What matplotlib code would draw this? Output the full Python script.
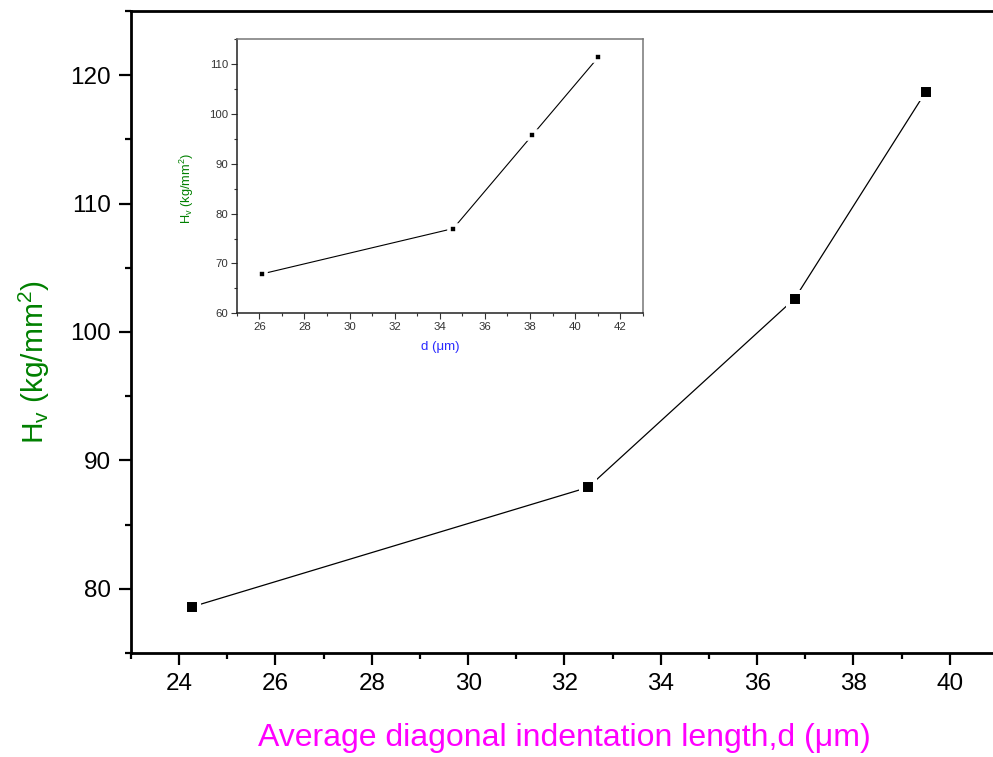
import matplotlib
matplotlib.use("Agg")
import matplotlib.pyplot as plt
from matplotlib.ticker import MultipleLocator

plt.rcParams['font.family'] = ['Liberation Sans', 'DejaVu Sans']
plt.rcParams['mathtext.fontset'] = 'custom'
plt.rcParams['mathtext.rm'] = 'Liberation Sans'
plt.rcParams['mathtext.it'] = 'Liberation Sans:italic'

# main data
d_main = [24.27, 32.49, 36.78, 39.5]
hv_main = [78.6, 87.9, 102.6, 118.7]
# inset data
d_inset = [26.12, 34.6, 38.1, 41.02]
hv_inset = [67.9, 77.0, 95.7, 111.3]

fig = plt.figure(figsize=(9.93, 7.57), dpi=100)

ax = fig.add_axes([0.1319, 0.1374, 0.8731, 0.8481])
ax.plot(d_main, hv_main, color='black', lw=0.9, marker='s', ms=10.1,
        mfc='black', mec='white', mew=2.9, zorder=3)
ax.set_xlim(23, 41)
ax.set_ylim(75, 125)
ax.xaxis.set_major_locator(MultipleLocator(2))
ax.xaxis.set_minor_locator(MultipleLocator(1))
ax.yaxis.set_major_locator(MultipleLocator(10))
ax.yaxis.set_minor_locator(MultipleLocator(5))
ax.spines['right'].set_visible(False)
for s in ['left', 'bottom', 'top']:
    ax.spines[s].set_linewidth(2.0)
ax.tick_params(which='major', direction='out', length=8.5, width=1.6,
               labelsize=17.5, pad=6)
ax.tick_params(which='minor', direction='out', length=4.5, width=1.6)
ax.tick_params(top=False, right=False, which='both')
ax.set_xlabel('Average diagonal indentation length,d (μm)', color='#ff00ff',
              fontsize=23, labelpad=20)
ax.set_ylabel(r'H$_\mathregular{v}$ (kg/mm$^\mathregular{2}$)', color='#008000',
              fontsize=21.5)
ax.yaxis.set_label_coords(0.052, 0.522, transform=fig.transFigure)

# inset
ai = fig.add_axes([0.2384, 0.5861, 0.4089, 0.3624])
ai.plot(d_inset, hv_inset, color='black', lw=0.8, marker='s', ms=5.6,
        mfc='black', mec='white', mew=2.6, zorder=3)
ai.set_xlim(25, 43)
ai.set_ylim(60, 115)
ai.xaxis.set_major_locator(MultipleLocator(2))
ai.xaxis.set_minor_locator(MultipleLocator(1))
ai.yaxis.set_major_locator(MultipleLocator(10))
ai.yaxis.set_minor_locator(MultipleLocator(5))
for s in ['left', 'bottom']:
    ai.spines[s].set_linewidth(1.1)
    ai.spines[s].set_color('#222222')
for s in ['top', 'right']:
    ai.spines[s].set_linewidth(1.1)
    ai.spines[s].set_color('#777777')
ai.tick_params(which='major', direction='out', length=4, width=0.8,
               labelsize=8.2, pad=2, colors='#333333')
ai.tick_params(which='minor', direction='out', length=2.2, width=0.8,
               colors='#333333')
ai.set_xlabel('d (μm)', color='#2a2aff', fontsize=9.5, labelpad=7)
ai.set_ylabel(r'H$_\mathregular{v}$ (kg/mm$^\mathregular{2}$)', color='#008000',
              fontsize=9.2)
ai.yaxis.set_label_coords(-0.10, 0.457)

fig.savefig('out.png', dpi=100)
